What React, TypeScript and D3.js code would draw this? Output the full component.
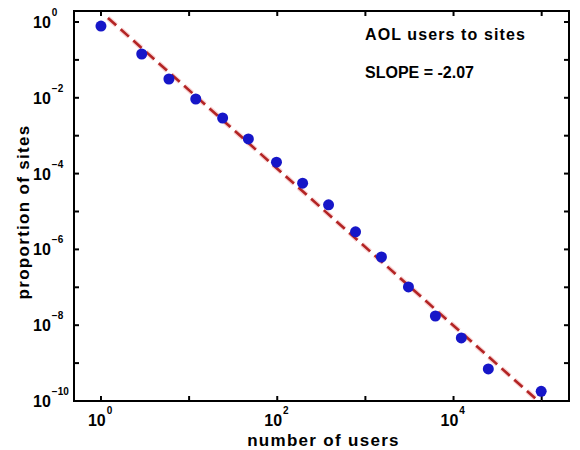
import * as d3 from 'd3';

// log-binned counts
const users = [1, 2.9, 5.9, 11.9, 24, 47, 98, 194, 382, 773, 1520, 3080, 6220, 12250, 24800, 98700];
const proportion = [0.78, 0.143, 0.0313, 0.0093, 0.00293, 8.2e-4, 2.0e-4, 5.6e-5, 1.5e-5, 2.9e-6, 6.3e-7, 1.02e-7, 1.75e-8, 4.6e-9, 7.0e-10, 1.8e-10];

// power-law fit
const fitSlope = -2.07;
const fitCoef = 1.86;
const fitRange = [1.2, 1.2e5];

const xDecades = [0, 1, 2, 3, 4, 5];
const xLabelExp = [0, 2, 4];
const yDecades = [0, -1, -2, -3, -4, -5, -6, -7, -8, -9, -10];
const yLabelExp = [0, -2, -4, -6, -8, -10];

const title = 'AOL users to sites';
const slopeText = 'SLOPE = -2.07';

const W = 580;
const H = 450;
const m = { left: 74, right: 569, top: 11, bottom: 401 };
const font = '"Liberation Sans", Arial, sans-serif';

const App = () => {
  const x = d3.scaleLog().domain([10 ** -0.306, 10 ** 5.31]).range([m.left, m.right]);
  const y = d3.scaleLog().domain([1e-10, 10 ** 0.29]).range([m.bottom, m.top]);

  const fitPts = fitRange.map(u => [u, fitCoef * Math.pow(u, fitSlope)]);
  const line = d3.line<number[]>()
    .x(d => x(d[0]))
    .y(d => y(d[1]));

  const tick = 5;

  return (
    <svg width={W} height={H} style={{ position: 'absolute', left: 0, top: 0, background: '#fff' }}>
      <defs>
        <clipPath id="plot">
          <rect x={m.left} y={m.top} width={m.right - m.left} height={m.bottom - m.top} />
        </clipPath>
      </defs>

      {/* frame */}
      <rect x={m.left} y={m.top} width={m.right - m.left} height={m.bottom - m.top}
        fill="none" stroke="#000" strokeWidth={2} />

      {/* ticks, mirrored on all sides */}
      {xDecades.map(e => {
        const px = x(10 ** e);
        return (
          <g key={'xt' + e} stroke="#000" strokeWidth={2}>
            <line x1={px} x2={px} y1={m.bottom} y2={m.bottom - tick} />
            <line x1={px} x2={px} y1={m.top} y2={m.top + tick} />
          </g>
        );
      })}
      {yDecades.map(e => {
        const py = y(10 ** e);
        return (
          <g key={'yt' + e} stroke="#000" strokeWidth={2}>
            <line x1={m.left} x2={m.left + tick} y1={py} y2={py} />
            <line x1={m.right} x2={m.right - tick} y1={py} y2={py} />
          </g>
        );
      })}

      {/* tick labels */}
      {xLabelExp.map(e => (
        <text key={'xl' + e} x={x(10 ** e) - 13} y={426} fontFamily={font} fontWeight="bold" fontSize={16} fill="#000">
          10<tspan dx={1} dy={-12} fontSize={10}>{e}</tspan>
        </text>
      ))}
      {yLabelExp.map(e => (
        <text key={'yl' + e} x={33} y={y(10 ** e) + 6} fontFamily={font} fontWeight="bold" fontSize={16} fill="#000">
          10<tspan dx={1} dy={-12} fontSize={10}>{e === 0 ? '0' : '\u2212' + Math.abs(e)}</tspan>
        </text>
      ))}

      {/* fit line */}
      <g clipPath="url(#plot)">
        <path d={line(fitPts) || ''} fill="none" stroke="#f4b8b8" strokeWidth={5}
          strokeDasharray="11,6" strokeOpacity={0.6} />
        <path d={line(fitPts) || ''} fill="none" stroke="#b32424" strokeWidth={2.6}
          strokeDasharray="11,6" />
      </g>

      {/* data */}
      {users.map((u, i) => (
        <circle key={i} cx={x(u)} cy={y(proportion[i])} r={5.5} fill="#1616c8" />
      ))}

      {/* annotations */}
      <text x={365} y={40} fontFamily={font} fontWeight="bold" fontSize={16} letterSpacing={1.1} fill="#000">{title}</text>
      <text x={365} y={78} fontFamily={font} fontWeight="bold" fontSize={16} fill="#000">{slopeText}</text>

      {/* axis titles */}
      <text x={(m.left + m.right) / 2 + 2} y={446} textAnchor="middle" fontFamily={font} fontWeight="bold"
        fontSize={17} letterSpacing={1.3} fill="#000">
        number of users
      </text>
      <text transform={`translate(29, 212) rotate(-90)`} textAnchor="middle" fontFamily={font} fontWeight="bold"
        fontSize={17} letterSpacing={1.3} fill="#000">
        proportion of sites
      </text>
    </svg>
  );
};

export default App;
